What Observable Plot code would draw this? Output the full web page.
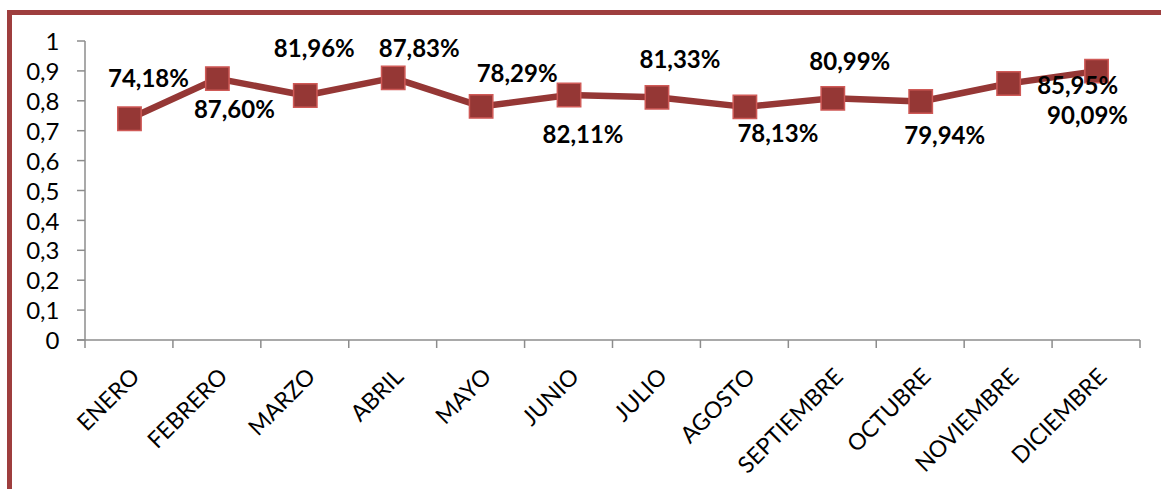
<!DOCTYPE html>
<html><head><meta charset="utf-8">
<script src="https://cdn.jsdelivr.net/npm/d3@7"></script>
<script src="https://cdn.jsdelivr.net/npm/@observablehq/plot@0.6"></script>
<style>
body{margin:0;background:#fff;}
#wrap{position:relative;width:1161px;height:489px;overflow:hidden;background:#fff;}
#wrap svg{position:absolute;left:0;top:0;}
.bt{position:absolute;left:7px;top:10px;width:1154px;height:5px;background:#9e3e3e;z-index:2;}
.bl{position:absolute;left:7px;top:10px;width:5px;height:479px;background:#9e3e3e;z-index:2;}
</style></head><body>
<div id="wrap"><div class="bt"></div><div class="bl"></div></div>
<script>
// ---- data ----
const months = ["ENERO","FEBRERO","MARZO","ABRIL","MAYO","JUNIO","JULIO","AGOSTO","SEPTIEMBRE","OCTUBRE","NOVIEMBRE","DICIEMBRE"];
const values = [0.7418, 0.8760, 0.8196, 0.8783, 0.7829, 0.8211, 0.8133, 0.7813, 0.8099, 0.7994, 0.8595, 0.9009];
const yTicks = [0, 0.1, 0.2, 0.3, 0.4, 0.5, 0.6, 0.7, 0.8, 0.9, 1];

// ---- rendering ----
const fmtPct = v => (v * 100).toFixed(2).replace(".", ",") + "%";
const fmtTick = v => String(v).replace(".", ",");
const data = months.map((m, i) => ({month: m, value: values[i], label: fmtPct(values[i])}));

const W = 1161, H = 489, mL = 85, mR = 21, mT = 41, mB = 149;
const axisGray = "#8c8c8c";
const lineColor = "#953735";

// label offsets (px) relative to each point, as placed in the original
const labelOffsets = [[19,-39],[17,32],[9,-46],[26,-29],[36,-32],[14,40],[23,-37],[33,27],[17,-36],[24,35],[69,3],[-9,45]];

const axesMark = (index, scales) => {
  const g = d3.create("svg:g");
  const x = scales.x, y = scales.y;
  const bw = x.bandwidth();
  const y0 = y(0), y1 = y(1);
  const x0 = x(months[0]);
  const xEnd = x(months[months.length - 1]) + bw;
  const bounds = months.map(m => x(m)).concat([xEnd]);
  g.append("line").attr("x1", x0).attr("x2", x0).attr("y1", y1).attr("y2", y0)
    .attr("stroke", axisGray).attr("stroke-width", 1.5);
  g.append("line").attr("x1", x0 - 8).attr("x2", xEnd).attr("y1", y0).attr("y2", y0)
    .attr("stroke", axisGray).attr("stroke-width", 1.5);
  g.selectAll("line.b").data(bounds).join("line").attr("class", "b")
    .attr("x1", d => d).attr("x2", d => d).attr("y1", y0).attr("y2", y0 + 8)
    .attr("stroke", axisGray).attr("stroke-width", 1.5);
  g.selectAll("line.t").data(yTicks).join("line").attr("class", "t")
    .attr("x1", x0 - 8).attr("x2", x0).attr("y1", d => y(d)).attr("y2", d => y(d))
    .attr("stroke", axisGray).attr("stroke-width", 1.5);
  return g.node();
};

const chart = Plot.plot({
  width: W, height: H,
  marginLeft: mL, marginRight: mR, marginTop: mT, marginBottom: mB,
  style: {fontFamily: "Lato, 'Open Sans', sans-serif", background: "transparent", overflow: "visible"},
  x: {type: "band", domain: months, padding: 0, round: false, axis: null},
  y: {domain: [0, 1], axis: null},
  marks: [
    axesMark,
    Plot.text(yTicks, {y: d => d, frameAnchor: "left", text: fmtTick, textAnchor: "end", dx: -26, dy: 1,
      fontSize: 24, fill: "black"}),
    Plot.text(months, {x: d => d, frameAnchor: "bottom", rotate: -45, textAnchor: "end", lineAnchor: "top",
      dx: 0, dy: 26, fontSize: 23, fill: "black"}),
    Plot.line(data, {x: "month", y: "value", stroke: lineColor, strokeWidth: 6.5, strokeLinejoin: "round"}),
    Plot.dot(data, {x: "month", y: "value", symbol: "square", r: 13.2, fill: lineColor, stroke: "#cf5a57", strokeWidth: 1.5}),
    ...labelOffsets.map(([dx, dy], i) => Plot.text([data[i]], {x: "month", y: "value", text: "label",
      dx, dy, fontSize: 24, fontWeight: "bold", fill: "black"}))
  ]
});
document.getElementById("wrap").appendChild(chart);
</script>
</body></html>
